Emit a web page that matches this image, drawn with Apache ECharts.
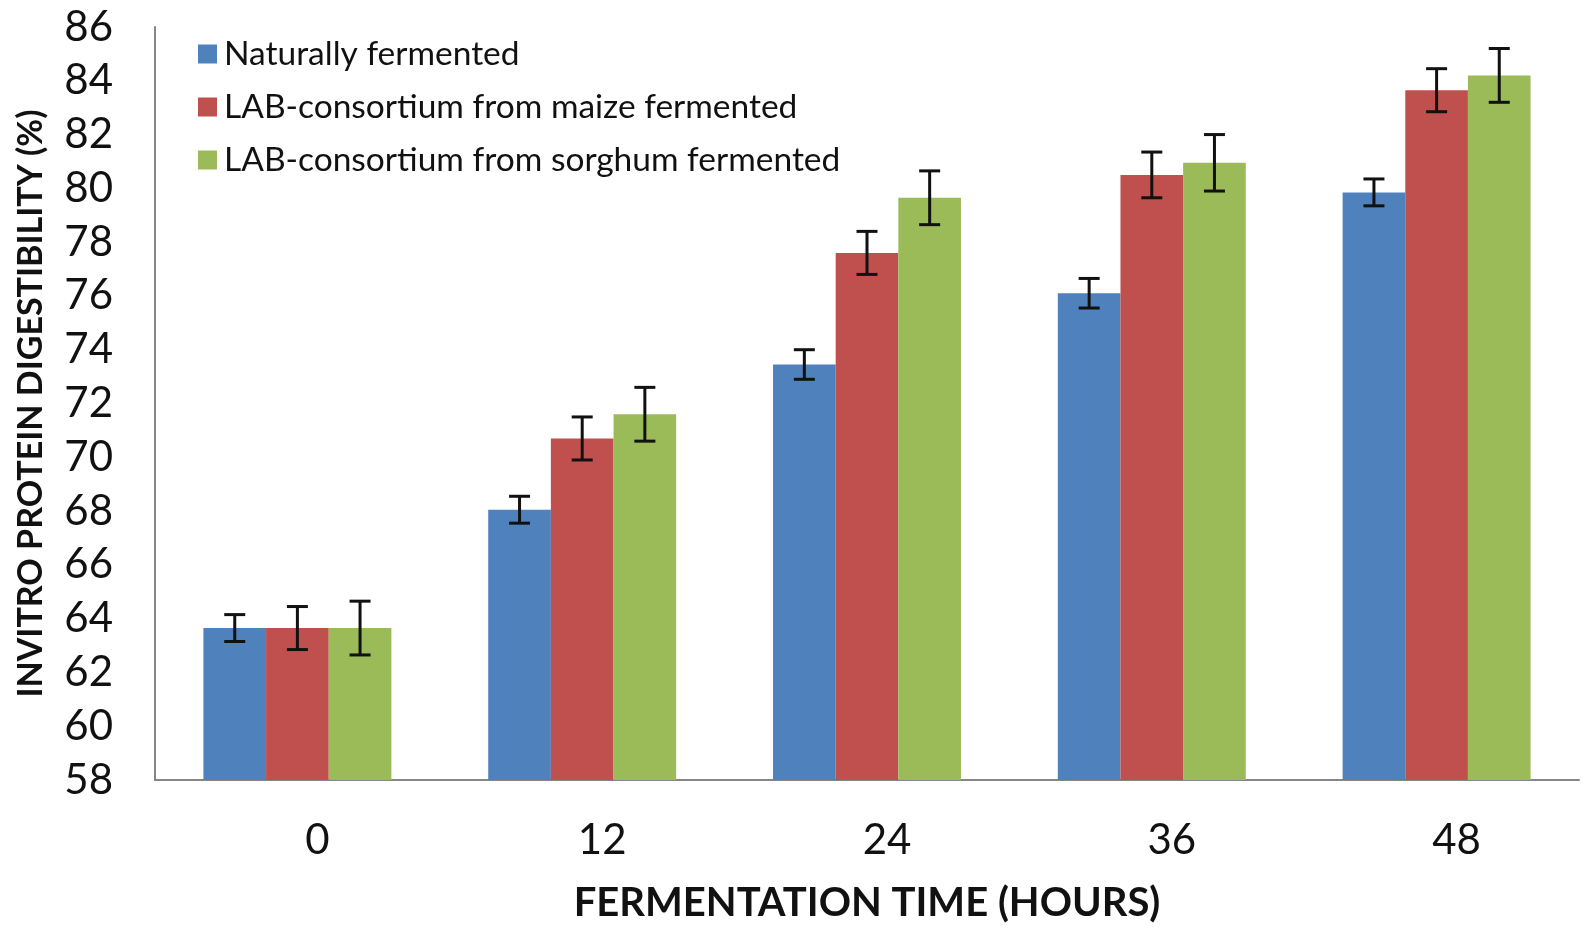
<!DOCTYPE html>
<html>
<head>
<meta charset="utf-8">
<script src="https://cdn.jsdelivr.net/npm/echarts@6/dist/echarts.min.js"></script>
<style>
html,body{margin:0;padding:0;background:#fff;}
#chart{width:1595px;height:928px;}
</style>
</head>
<body>
<div id="chart"></div>
<script>
const categories = ['0', '12', '24', '36', '48'];
const seriesNames = ['Naturally fermented', 'LAB-consortium from maize fermented', 'LAB-consortium from sorghum fermented'];
const natural = [63.65, 68.05, 73.45, 76.1, 79.85];
const maize = [63.65, 70.7, 77.6, 80.5, 83.65];
const sorghum = [63.65, 71.6, 79.65, 80.95, 84.2];
const naturalErr = [0.5, 0.5, 0.55, 0.55, 0.5];
const maizeErr = [0.8, 0.8, 0.8, 0.85, 0.8];
const sorghumErr = [1.0, 1.0, 1.0, 1.05, 1.0];
const yTicks = { min: 58, max: 86, interval: 2 };

const colors = ['#4F81BD', '#C0504D', '#9BBB59'];
const values = [natural, maize, sorghum];
const errs = [naturalErr, maizeErr, sorghumErr];
const CAT_GAP = 0.34;
const FONT = 'Lato, "Open Sans", sans-serif';

const chart = echarts.init(document.getElementById('chart'));

function errSeries(idx) {
  const data = categories.map((c, i) => [i, values[idx][i] - errs[idx][i], values[idx][i] + errs[idx][i]]);
  return {
    type: 'custom',
    name: seriesNames[idx] + ' error',
    z: 10,
    silent: true,
    data: data,
    encode: { x: 0, y: [1, 2] },
    renderItem: function (params, api) {
      const xi = api.value(0);
      const lo = api.coord([xi, api.value(1)]);
      const hi = api.coord([xi, api.value(2)]);
      const catW = api.size([1, 0])[0];
      const barW = catW * (1 - CAT_GAP) / 3;
      const x = lo[0] + (idx - 1) * barW;
      const cap = 10.5;
      const style = { stroke: '#111', lineWidth: 3 };
      return {
        type: 'group',
        children: [
          { type: 'line', shape: { x1: x, y1: lo[1], x2: x, y2: hi[1] }, style: style },
          { type: 'line', shape: { x1: x - cap, y1: lo[1], x2: x + cap, y2: lo[1] }, style: style },
          { type: 'line', shape: { x1: x - cap, y1: hi[1], x2: x + cap, y2: hi[1] }, style: style }
        ]
      };
    }
  };
}

const barSeries = values.map((v, idx) => ({
  type: 'bar',
  name: seriesNames[idx],
  data: v,
  barGap: '0%',
  barCategoryGap: (CAT_GAP * 100) + '%',
  itemStyle: { color: colors[idx] }
}));

chart.setOption({
  animation: false,
  backgroundColor: '#fff',
  textStyle: { fontFamily: FONT },
  legend: {
    data: seriesNames,
    orient: 'vertical',
    left: 193,
    top: 31,
    itemWidth: 19,
    itemHeight: 19,
    itemGap: 17,
    icon: 'rect',
    textStyle: { fontFamily: FONT, fontSize: 33.5, color: '#111', lineHeight: 36, padding: [0, 0, 0, 2] }
  },
  grid: { left: 155, right: 16, top: 27, bottom: 148 },
  xAxis: {
    type: 'category',
    data: categories,
    name: 'FERMENTATION TIME (HOURS)',
    nameLocation: 'middle',
    nameGap: 103,
    nameTextStyle: { fontFamily: FONT, fontSize: 40, fontWeight: 'bold', color: '#111' },
    axisLine: { lineStyle: { color: '#868686', width: 2 } },
    axisTick: { show: false },
    axisLabel: { fontFamily: FONT, fontSize: 42, color: '#111', margin: 39, padding: [0, 0, 0, 40] }
  },
  yAxis: {
    type: 'value',
    min: yTicks.min,
    max: yTicks.max,
    interval: yTicks.interval,
    name: 'INVITRO PROTEIN DIGESTIBILITY (%)',
    nameLocation: 'middle',
    nameGap: 107,
    nameRotate: 90,
    nameTextStyle: { fontFamily: FONT, fontSize: 34, fontWeight: 'bold', color: '#111' },
    axisLine: { show: true, lineStyle: { color: '#868686', width: 2 } },
    axisTick: { show: false },
    splitLine: { show: false },
    axisLabel: { fontFamily: FONT, fontSize: 42, color: '#111', margin: 42 }
  },
  series: barSeries.concat([errSeries(0), errSeries(1), errSeries(2)])
});
</script>
</body>
</html>
